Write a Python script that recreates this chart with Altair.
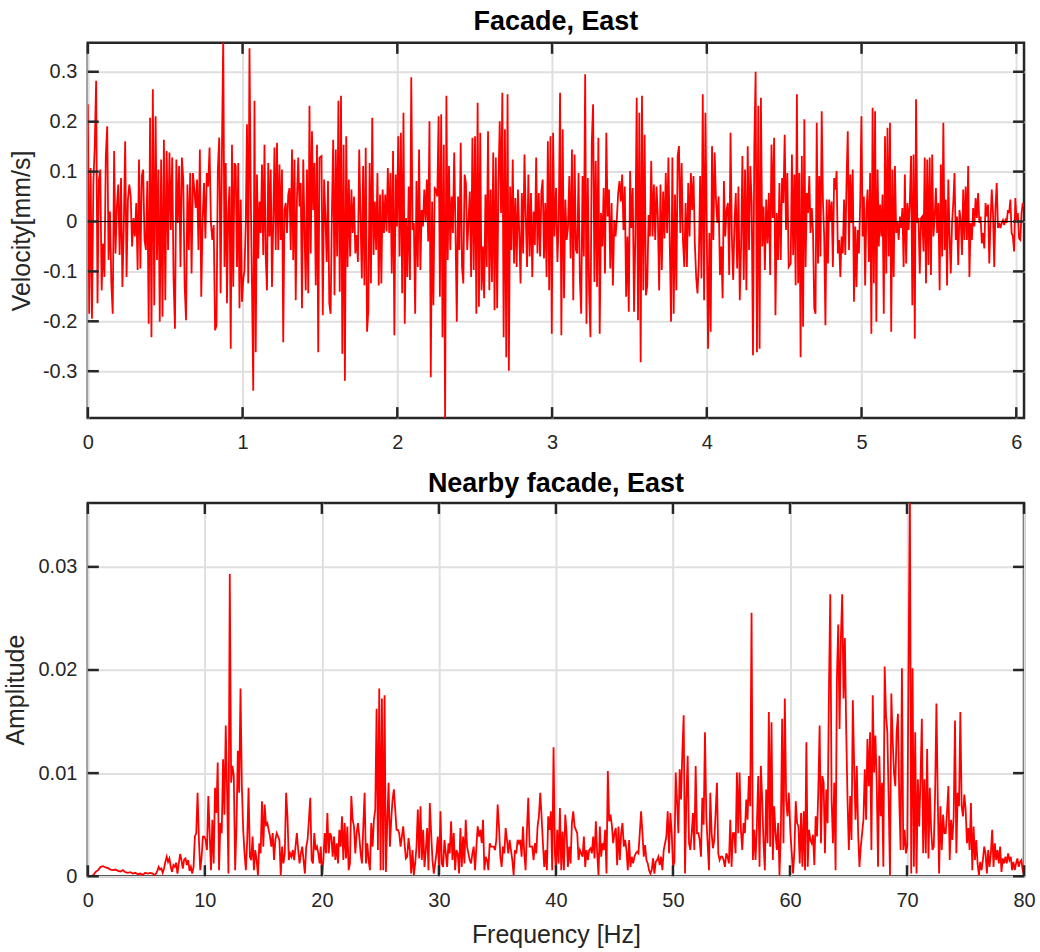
import numpy as np
import pandas as pd
import altair as alt

# ---------------------------------------------------------------------------
# Velocity record, facade east (mm/s). Consecutive stretches of samples,
# each spread evenly over its own time span (s).
# ---------------------------------------------------------------------------
VEL_SPANS = [(0.0, 0.867), (0.875, 1.497), (1.510, 3.015), (3.026, 4.529), (4.542, 6.05)]

VEL_A1 = [0.235, -0.185, 0.107, -0.195, 0.077, 0.151, 0.282, -0.164, 0.084, 0.104, -0.138, -0.044, -0.111, 0.131,
          0.191, -0.077, 0.020, -0.124, -0.185, 0.141, -0.064, 0.030, 0.074, -0.067, 0.087, -0.131, -0.010, 0.161,
          -0.111, 0.044, 0.074, 0.050, -0.050, 0.007, -0.030, 0.037, -0.097, 0.124, -0.094, 0.091, 0.104, -0.037,
          -0.057, 0.081, -0.205, 0.208, -0.232, 0.265, -0.168, 0.211, -0.077, 0.104, -0.201, 0.124, -0.191, 0.164,
          -0.158, 0.141, -0.057, 0.138, -0.017, 0.128, -0.117, -0.215, 0.124, -0.003, 0.111, -0.091, 0.128, 0.084,
          -0.128, -0.198, 0.074, -0.057, 0.097, -0.104, 0.097, 0.064, 0.027, 0.084, -0.057, 0.144, -0.151, 0.003,
          0.077, -0.034, 0.097, 0.070, 0.148, -0.003, -0.037, -0.007, -0.218, -0.208, 0.104, 0.168, -0.144, 0.154]

VEL_A2 = [0.370, -0.091, 0.117, -0.164, 0.017, 0.070, -0.255, 0.154, -0.131, 0.117, 0.111, -0.091, 0.117, -0.174,
          0.044, -0.161, -0.117, -0.097, -0.007, 0.195, -0.124, 0.347, 0.057, -0.128, -0.339, 0.242, -0.262, 0.094,
          -0.074, 0.040, -0.023, 0.114, -0.067, 0.154, -0.070, -0.138, 0.117, -0.030, 0.104, -0.131, -0.003, 0.148,
          -0.057, 0.158, -0.057, 0.114, -0.037, 0.104, -0.242, 0.023, 0.037, -0.023, 0.054, 0.067, -0.057, 0.144,
          -0.077, 0.124, -0.158, 0.050, 0.128, 0.030, 0.077, -0.174, 0.124, -0.017, -0.138, 0.104, -0.144, 0.232,
          -0.064, 0.181, 0.023, 0.117, -0.128, 0.154, -0.262, 0.128]

VEL_B = [0.131, -0.188, 0.084, 0.010, -0.081, 0.081, -0.164, -0.185, 0.017, 0.164, -0.148, 0.144, -0.070, 0.242,
         -0.141, 0.252, -0.265, 0.154, -0.319, 0.171, -0.091, 0.084, -0.070, 0.064, -0.023, 0.050, -0.064, -0.027,
         -0.081, 0.144, 0.007, -0.114, 0.111, -0.128, 0.148, -0.221, -0.178, 0.117, -0.124, 0.208, -0.067, 0.040,
         -0.057, 0.097, -0.128, 0.054, -0.124, 0.064, -0.023, 0.054, -0.020, 0.107, -0.023, 0.097, -0.104, 0.141,
         -0.228, 0.094, -0.010, 0.171, -0.070, 0.178, -0.144, 0.218, -0.205, 0.007, -0.111, 0.070, -0.117, 0.289,
         -0.017, -0.003, -0.185, 0.081, -0.091, 0.144, -0.097, 0.023, -0.010, 0.064, 0.000, 0.084, -0.040, 0.201,
         -0.312, 0.040, -0.168, 0.067, 0.064, 0.050, 0.211, -0.151, 0.215, -0.232, 0.154, -0.400, 0.252, -0.077,
         0.111, -0.057, 0.050, -0.023, 0.138, -0.017, -0.201, 0.050, -0.057, 0.158, -0.091, -0.124, 0.094, 0.077,
         -0.057, 0.000, 0.060, -0.111, 0.168, -0.097, 0.171, -0.185, 0.238, -0.171, 0.178, -0.138, -0.050, -0.154,
         0.054, -0.091, 0.181, -0.138, 0.064, -0.121, 0.138, -0.178, 0.128, -0.174, 0.077, 0.201, 0.017, 0.258,
         -0.232, 0.185, -0.272, 0.255, -0.299, 0.070, -0.057, 0.124, -0.084, 0.047, -0.091, 0.064, -0.023, -0.124,
         0.057, -0.064, 0.134, 0.010, -0.091, 0.094, -0.070, 0.057, -0.111, 0.020, -0.047, 0.128, -0.064, 0.057,
         -0.070, 0.060, 0.084, -0.074, 0.037, -0.111, 0.161, -0.138, 0.171, -0.225, 0.178, -0.030]

VEL_C = [0.067, -0.081, -0.003, 0.258, -0.228, 0.185, -0.154, 0.044, -0.037, -0.013, 0.091, -0.074, 0.144, -0.158,
         0.134, -0.057, -0.064, 0.097, -0.114, -0.185, 0.091, -0.070, 0.295, -0.205, 0.087, -0.141, -0.232, 0.158,
         0.235, -0.121, 0.121, -0.131, 0.168, -0.225, 0.017, -0.050, 0.067, -0.104, 0.178, 0.010, 0.064, -0.094,
         0.037, -0.128, 0.003, -0.030, 0.007, 0.057, 0.081, 0.040, 0.094, -0.017, 0.070, -0.151, -0.030, -0.181,
         0.101, -0.013, 0.067, -0.181, -0.030, 0.248, -0.198, 0.218, -0.282, 0.252, -0.138, 0.174, -0.148, -0.128,
         0.013, -0.030, 0.121, -0.030, 0.074, -0.037, 0.070, 0.010, -0.138, 0.074, -0.097, 0.060, -0.034, 0.097,
         -0.023, 0.128, -0.040, -0.201, 0.128, -0.185, 0.054, -0.138, 0.131, 0.151, -0.023, 0.117, -0.037, -0.091,
         0.037, -0.091, 0.077, -0.030, 0.097, 0.023, 0.091, -0.044, -0.111, -0.144, -0.084, 0.091, -0.114, 0.255,
         -0.158, 0.218, -0.017, -0.255, -0.023, -0.221, 0.151, -0.037, 0.138, 0.044, -0.003, 0.050, -0.107, -0.050,
         -0.154, 0.081, -0.030, 0.023, 0.037, -0.107, 0.178, -0.030, -0.117, -0.003, 0.057, -0.094, 0.070, -0.158,
         -0.050, 0.131, -0.117, 0.104, -0.138, 0.151, -0.057, 0.111, 0.037, -0.268, 0.151, 0.300, -0.262, 0.232,
         -0.255, 0.248, -0.050, 0.030, -0.097, 0.044, -0.044, 0.057, -0.107, 0.154, 0.007, 0.168, -0.188, 0.017,
         -0.077, 0.077, -0.077, 0.087, 0.037, 0.174, -0.017, 0.097, -0.091]

VEL_D = [-0.084, 0.134, -0.067, 0.094, -0.128, 0.255, -0.124, 0.097, -0.272, 0.131, -0.211, 0.205, -0.091, 0.057,
         0.017, 0.091, -0.023, 0.027, -0.020, -0.174, -0.185, 0.198, -0.084, 0.091, -0.070, 0.221, 0.040, -0.030,
         -0.208, 0.044, -0.084, 0.044, 0.000, 0.040, -0.091, 0.087, 0.064, 0.101, -0.064, -0.037, -0.111, -0.030,
         -0.064, 0.044, -0.067, 0.081, 0.181, -0.057, 0.094, -0.003, 0.104, -0.161, -0.010, -0.131, -0.017, -0.064,
         0.037, 0.211, -0.030, 0.050, -0.128, 0.023, 0.064, -0.081, 0.097, -0.225, 0.228, -0.124, 0.221, -0.201,
         0.104, -0.050, 0.034, -0.030, 0.054, -0.185, 0.171, -0.104, 0.188, -0.070, 0.198, -0.221, 0.104, -0.111,
         0.111, -0.023, 0.000, -0.037, 0.010, -0.013, 0.027, -0.091, 0.094, -0.084, 0.037, -0.017, 0.040, 0.131,
         -0.168, 0.134, -0.235, 0.245, -0.003, 0.007, -0.104, 0.007, 0.010, -0.060, 0.128, -0.124, 0.124, -0.087,
         0.128, -0.107, 0.134, -0.030, 0.007, 0.067, -0.023, 0.037, -0.138, 0.114, -0.070, 0.198, -0.057, 0.044,
         -0.128, 0.084, -0.030, -0.104, -0.003, 0.037, 0.097, -0.037, 0.010, -0.087, 0.023, 0.003, -0.067, 0.064,
         -0.037, 0.070, -0.037, 0.111, -0.111, -0.003, -0.037, 0.027, -0.010, 0.047, 0.007, 0.057, -0.003, 0.010,
         -0.044, -0.023, -0.054, 0.037, 0.010, 0.034, -0.084, 0.000, 0.064, 0.017, -0.091, 0.027, 0.077, -0.013,
         -0.003, -0.013, -0.003, 0.003, -0.007, 0.003, -0.003, 0.023, 0.017, 0.044, -0.023, -0.030, -0.060, 0.047,
         0.003, 0.017, -0.034, -0.037, 0.017, 0.037, 0.030]

# ---------------------------------------------------------------------------
# Amplitude spectrum, nearby facade east, in units of 1e-3, each stretch
# spread evenly over its own frequency span (Hz).
# ---------------------------------------------------------------------------
AMP_SPANS = [(0.03, 5.54), (5.71, 19.81), (19.90, 39.91), (40.0, 59.9), (60.04, 80.0)]

AMP_A = [0.0, 0.0, 0.10, 0.42, 0.59, 0.91, 0.98, 0.85, 0.78, 0.65, 0.59, 0.65, 0.52, 0.46, 0.59, 0.39, 0.33, 0.39,
         0.26, 0.33, 0.20, 0.26, 0.13, 0.33, 0.26, 0.33, 0.26]

AMP_B = [0.10, 0.26, 0.52, 0.91, 0.65, 0.75, 0.33, 0.75, 1.40, 1.89, 1.40, 1.73, 0.91, 0.42, 1.08, 0.91, 1.31, 0.26,
         1.24, 2.15, 1.57, 0.75, 1.63, 1.73, 1.08, 1.57, 0.52, 0.91, 0.26, 0.91, 3.85, 4.18, 8.09, 3.52, 0.59, 1.89,
         3.85, 3.85, 3.52, 2.54, 7.77, 4.18, 0.59, 5.48, 1.24, 8.58, 6.13, 11.03, 0.59, 5.15, 4.18, 11.35, 5.97,
         14.62, 8.09, 0.26, 29.30, 9.07, 10.70, 9.72, 0.59, 4.83, 12.17, 8.09, 18.21, 8.74, 4.50, 2.22, 0.59, 3.52,
         8.58, 1.89, 1.57, 3.85, 0.59, 2.54, 1.57, 0.10, 3.20, 2.22, 7.28, 2.87, 6.95, 4.99, 5.15, 4.50, 3.85, 2.87,
         4.18, 1.57, 3.52, 4.18, 3.85, 3.52, 0.10, 2.87, 1.24, 2.22, 8.09, 5.81, 1.57, 2.22, 1.89, 2.54, 1.57, 2.87,
         4.18, 2.54, 1.24, 2.22, 2.87, 1.57, 0.26, 2.87, 3.52, 5.48, 7.60, 1.57, 1.24, 4.18, 2.54, 2.87, 2.22, 1.24]

AMP_C = [2.87, 0.10, 1.57, 4.18, 2.22, 6.13, 2.22, 4.18, 3.85, 1.89, 3.85, 1.57, 3.20, 1.24, 4.50, 2.87, 5.81, 1.57,
         5.15, 1.73, 4.83, 0.59, 1.24, 7.77, 5.48, 4.83, 2.22, 4.18, 5.15, 3.85, 2.22, 1.24, 4.83, 8.09, 1.24, 3.20,
         1.57, 0.59, 5.15, 2.87, 5.48, 6.46, 16.25, 2.54, 18.21, 0.59, 17.23, 0.59, 17.55, 0.42, 5.15, 9.07, 2.87,
         5.48, 7.44, 8.42, 6.46, 4.50, 4.50, 4.18, 2.87, 3.85, 4.83, 3.20, 1.73, 1.89, 3.69, 2.54, 0.26, 2.54, 0.10,
         1.24, 2.87, 6.46, 1.73, 6.79, 1.57, 4.50, 0.91, 2.54, 4.67, 0.59, 7.11, 4.18, 1.57, 0.26, 1.24, 2.22, 3.85,
         0.42, 6.30, 1.24, 0.91, 3.52, 2.22, 0.91, 3.20, 2.22, 5.32, 1.57, 4.18, 0.59, 2.54, 2.22, 0.26, 4.67, 0.91,
         3.85, 1.24, 5.48, 2.87, 2.22, 1.57, 1.24, 2.22, 2.87, 0.59, 2.87, 4.83, 3.85, 4.50, 3.20, 5.48, 0.59, 1.89,
         1.57, 0.59, 3.20, 2.87, 2.87, 2.87, 2.54, 3.52, 6.95, 4.83, 1.89, 0.91, 2.87, 2.22, 4.67, 3.52, 2.22, 3.52,
         2.54, 1.57, 0.10, 2.54, 2.22, 3.52, 3.20, 3.52, 1.89, 4.83, 2.22, 0.59, 4.50, 7.60, 2.87, 2.87, 2.87, 1.57,
         3.20, 2.22, 4.83, 5.81, 8.09, 5.81, 3.20, 0.91, 2.54, 0.59, 5.81, 4.50, 6.30, 0.59, 12.50, 2.22]

AMP_D = [0.59, 4.50, 1.24, 6.62, 0.59, 4.34, 0.59, 5.97, 4.18, 0.91, 2.87, 1.24, 5.15, 6.30, 4.83, 4.50, 4.18, 1.57,
         2.54, 2.22, 1.89, 3.85, 0.91, 2.54, 1.57, 2.54, 2.71, 2.22, 3.85, 1.73, 5.32, 2.22, 0.10, 4.83, 1.89, 3.20,
         2.54, 4.50, 0.26, 10.21, 5.32, 5.97, 4.99, 3.20, 4.18, 4.67, 1.08, 4.83, 1.57, 4.18, 5.15, 2.87, 3.52, 2.54,
         0.59, 3.52, 0.91, 1.89, 1.24, 1.89, 2.22, 2.38, 2.22, 4.18, 6.30, 4.18, 1.89, 3.03, 1.57, 1.24, 0.59, 0.26,
         0.59, 1.73, 0.26, 1.40, 1.57, 1.89, 1.08, 1.89, 0.59, 2.54, 3.20, 3.85, 6.30, 2.22, 6.13, 4.18, 0.91, 1.40,
         10.05, 7.28, 4.18, 10.38, 7.44, 12.01, 15.60, 0.26, 7.44, 11.68, 3.20, 2.54, 4.18, 6.13, 2.54, 10.70, 4.18,
         4.18, 3.52, 1.89, 7.60, 4.99, 13.96, 5.81, 3.20, 0.59, 8.09, 4.18, 2.71, 3.52, 6.13, 9.07, 2.22, 1.57, 1.89,
         1.89, 1.57, 0.91, 2.22, 1.89, 1.24, 5.48, 0.91, 4.18, 4.18, 2.22, 10.05, 4.18, 10.05, 4.50, 2.54, 5.15,
         4.18, 7.44, 5.48, 9.72, 6.79, 25.55, 1.57, 4.50, 1.57, 4.83, 9.72, 0.91, 10.70, 7.44, 3.20, 0.59, 8.42,
         3.20, 15.92, 2.87, 14.94, 1.57, 6.79, 4.18, 2.54, 5.15, 0.10, 4.18, 15.27, 3.20, 17.23, 7.44, 5.81, 8.09]

AMP_E = [4.18, 2.22, 0.26, 2.54, 7.28, 5.15, 4.83, 1.24, 6.13, 0.91, 6.30, 0.59, 12.99, 0.91, 4.50, 3.52, 3.20, 4.01,
         1.08, 5.81, 3.85, 8.42, 14.62, 3.20, 9.72, 9.07, 2.22, 8.42, 5.15, 17.88, 27.34, 7.44, 3.20, 9.07, 0.59,
         19.18, 24.40, 14.29, 23.10, 27.34, 17.23, 23.10, 14.29, 7.44, 2.54, 7.77, 3.52, 17.06, 10.70, 5.48, 10.70,
         4.18, 0.91, 2.87, 4.18, 5.48, 10.38, 5.48, 13.31, 8.74, 13.96, 2.54, 17.55, 10.05, 13.64, 9.07, 0.91, 11.68,
         5.81, 9.07, 0.91, 20.33, 15.60, 13.96, 7.44, 0.10, 17.72, 13.31, 10.05, 8.74, 13.96, 15.76, 7.44, 2.54,
         20.16, 2.54, 4.50, 2.22, 2.87, 20.49, 37.0, 0.26, 20.16, 0.91, 13.96, 0.26, 9.40, 4.83, 9.40, 15.27, 2.22,
         9.40, 2.22, 12.33, 1.73, 8.58, 4.50, 2.54, 2.87, 8.09, 16.74, 7.44, 0.26, 6.79, 2.54, 5.97, 4.18, 4.18,
         6.30, 8.74, 1.57, 5.48, 3.52, 5.81, 15.11, 2.22, 8.09, 6.79, 15.92, 6.79, 5.81, 7.93, 6.46, 3.20, 4.67,
         2.54, 7.11, 0.59, 4.83, 1.57, 3.52, 1.24, 0.10, 1.40, 0.59, 1.57, 2.87, 2.22, 0.26, 2.54, 0.91, 2.22, 4.50,
         0.91, 3.20, 1.57, 2.54, 1.24, 2.87, 0.42, 1.73, 1.24, 1.89, 1.24, 2.22, 1.57, 1.89, 0.59, 1.40, 0.59, 1.24,
         1.73, 0.91, 1.40, 1.57, 0.59, 0.10]

# Axis tick positions
VEL_XTICKS = [0, 1, 2, 3, 4, 5, 6]
VEL_YTICKS = [-0.3, -0.2, -0.1, 0.0, 0.1, 0.2, 0.3]
AMP_XTICKS = [0, 10, 20, 30, 40, 50, 60, 70, 80]
AMP_YTICKS = [0.0, 0.01, 0.02, 0.03]


def spread(stretches, spans, scale=1.0):
    xs, ys = [], []
    for vals, (a, b) in zip(stretches, spans):
        xs.extend(np.linspace(a, b, len(vals)).tolist())
        ys.extend([v * scale for v in vals])
    return xs, ys


t, vel = spread([VEL_A1, VEL_A2, VEL_B, VEL_C, VEL_D], VEL_SPANS)
f, amp = spread([AMP_A, AMP_B, AMP_C, AMP_D, AMP_E], AMP_SPANS, scale=1e-3)

vel_df = pd.DataFrame({"x": t, "y": vel})
amp_df = pd.DataFrame({"x": f, "y": amp})

W = 938
H_TOP = 376
H_BOT = 374
TICK = 11
FONT = "Liberation Sans"
INK = "#262626"
RED = "#ff0000"


def axis(values, title, label_expr, **kw):
    return alt.Axis(values=values, title=title, labelExpr=label_expr, grid=True, gridColor="#dfdfdf",
                    gridWidth=2, ticks=False, domain=False, labelFlush=False, labelFont=FONT,
                    labelFontSize=20, labelColor=INK, titleFont=FONT, titleFontSize=25, titleColor=INK,
                    titleFontWeight="normal", **kw)


def panel(df, xdom, ydom, xticks, yticks, xtitle, ytitle, ylabel_expr, height, title, zero_line,
          ytitle_pad, title_offset):
    xs = alt.Scale(domain=xdom, nice=False, zero=False)
    ys = alt.Scale(domain=ydom, nice=False, zero=False)
    xax = axis(xticks, xtitle, "toString(datum.value)", labelPadding=14, titlePadding=12)
    yax = axis(yticks, ytitle, ylabel_expr, labelPadding=11, titlePadding=ytitle_pad)
    X = alt.X("x:Q", scale=xs, axis=xax)
    Y = alt.Y("y:Q", scale=ys, axis=yax)

    line = alt.Chart(df).mark_line(color=RED, strokeWidth=1.8, clip=True).encode(x=X, y=Y)

    xt = pd.DataFrame({"x": xticks})
    yt = pd.DataFrame({"y": yticks})
    rule = dict(color=INK, strokeWidth=2.5)
    ticks_bottom = alt.Chart(xt).mark_rule(**rule).encode(
        x=X, y=alt.value(height - TICK), y2=alt.value(height))
    ticks_top = alt.Chart(xt).mark_rule(**rule).encode(
        x=X, y=alt.value(0), y2=alt.value(TICK))
    ticks_left = alt.Chart(yt).mark_rule(**rule).encode(
        y=Y, x=alt.value(0), x2=alt.value(TICK))
    ticks_right = alt.Chart(yt).mark_rule(**rule).encode(
        y=Y, x=alt.value(W - TICK), x2=alt.value(W))

    layers = [line]
    if zero_line:
        layers.append(alt.Chart(pd.DataFrame({"y": [0.0]})).mark_rule(color="#000000", strokeWidth=1).encode(y=Y))
    layers += [ticks_bottom, ticks_top, ticks_left, ticks_right]

    return alt.layer(*layers).properties(
        width=W, height=height,
        title=alt.TitleParams(title, font=FONT, fontSize=27, fontWeight="bold", color="#000000",
                              offset=title_offset),
    )


top = panel(vel_df, [0, 6.05], [-0.394, 0.358], VEL_XTICKS, VEL_YTICKS, None, "Velocity[mm/s]",
            "toString(round(datum.value * 100) / 100)", H_TOP, "Facade, East", True, 8, 6)
bottom = panel(amp_df, [0, 80], [0, 0.0362], AMP_XTICKS, AMP_YTICKS, "Frequency [Hz]", "Amplitude",
               "toString(round(datum.value * 1000) / 1000)", H_BOT, "Nearby facade, East", False, 10, 4)

chart = alt.vconcat(top, bottom, spacing=14).properties(
    padding={"left": 1, "top": 5, "right": 3, "bottom": 5},
    background="#ffffff",
).configure_view(stroke=INK, strokeWidth=2.5)

chart.save("out.html", embed_options={"renderer": "svg", "actions": False})
